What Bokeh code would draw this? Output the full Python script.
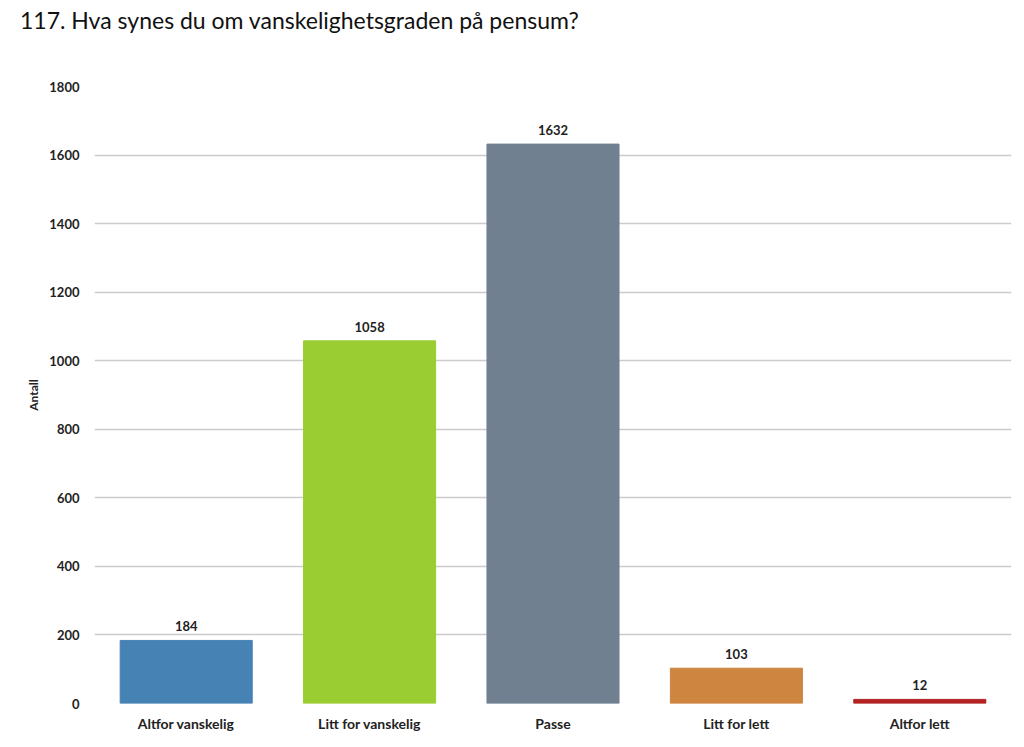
from bokeh.plotting import figure
from bokeh.models import ColumnDataSource, LabelSet, Div, FixedTicker
from bokeh.core.properties import value
from bokeh.layouts import column
from bokeh.embed import file_html
from bokeh.resources import INLINE

categories = ["Altfor vanskelig", "Litt for vanskelig", "Passe", "Litt for lett", "Altfor lett"]
counts = [184, 1058, 1632, 103, 12]
colors = ["#4682B4", "#9ACD32", "#708090", "#CD853F", "#B22222"]
y_ticks = [0, 200, 400, 600, 800, 1000, 1200, 1400, 1600, 1800]
title_text = "117. Hva synes du om vanskelighetsgraden på pensum?"
y_label = "Antall"

FONT = "Lato"

src = ColumnDataSource(dict(cat=categories, val=counts, col=colors,
                            lab=[str(v) for v in counts]))

p = figure(x_range=categories, y_range=(0, 1800), frame_width=917, frame_height=617,
           output_backend="svg", toolbar_location=None,
           min_border_left=94, min_border_right=5, min_border_top=37, min_border_bottom=30)
p.vbar(x="cat", top="val", width=0.72, color="col", source=src)

labels = LabelSet(x="cat", y="val", text="lab", source=src, text_align="center",
                  text_baseline="bottom", y_offset=9, text_font=value(FONT),
                  text_font_style="bold", text_font_size="13px", text_color="#222222")
p.add_layout(labels)

p.outline_line_color = None
p.xgrid.grid_line_color = None
p.ygrid.grid_line_color = "#cccccc"
p.ygrid.grid_line_width = 1.5
p.ygrid.ticker = FixedTicker(ticks=y_ticks)

p.yaxis.ticker = FixedTicker(ticks=y_ticks)
p.yaxis.axis_line_color = None
p.yaxis.major_tick_line_color = None
p.yaxis.minor_tick_line_color = None
p.yaxis.major_label_text_font = FONT
p.yaxis.major_label_text_font_style = "bold"
p.yaxis.major_label_text_font_size = "13px"
p.yaxis.major_label_text_color = "#222222"
p.yaxis.major_label_standoff = 9
p.yaxis.axis_label = y_label
p.yaxis.axis_label_text_font = FONT
p.yaxis.axis_label_text_font_style = "bold"
p.yaxis.axis_label_text_font_size = "12px"
p.yaxis.axis_label_text_color = "#222222"
p.yaxis.axis_label_standoff = 5

p.xaxis.axis_line_color = None
p.xaxis.major_tick_line_color = None
p.xaxis.minor_tick_line_color = None
p.xaxis.major_label_text_font = FONT
p.xaxis.major_label_text_font_style = "bold"
p.xaxis.major_label_text_font_size = "14px"
p.xaxis.major_label_text_color = "#222222"
p.xaxis.major_label_standoff = 5

title = Div(text=title_text, width=1000, height=40,
            styles={"font-family": FONT, "font-size": "23px", "color": "#111111",
                    "margin-left": "20px", "margin-top": "4px", "white-space": "nowrap"})

layout = column(title, p, spacing=0)
open("out.html", "w").write(file_html(layout, INLINE))
